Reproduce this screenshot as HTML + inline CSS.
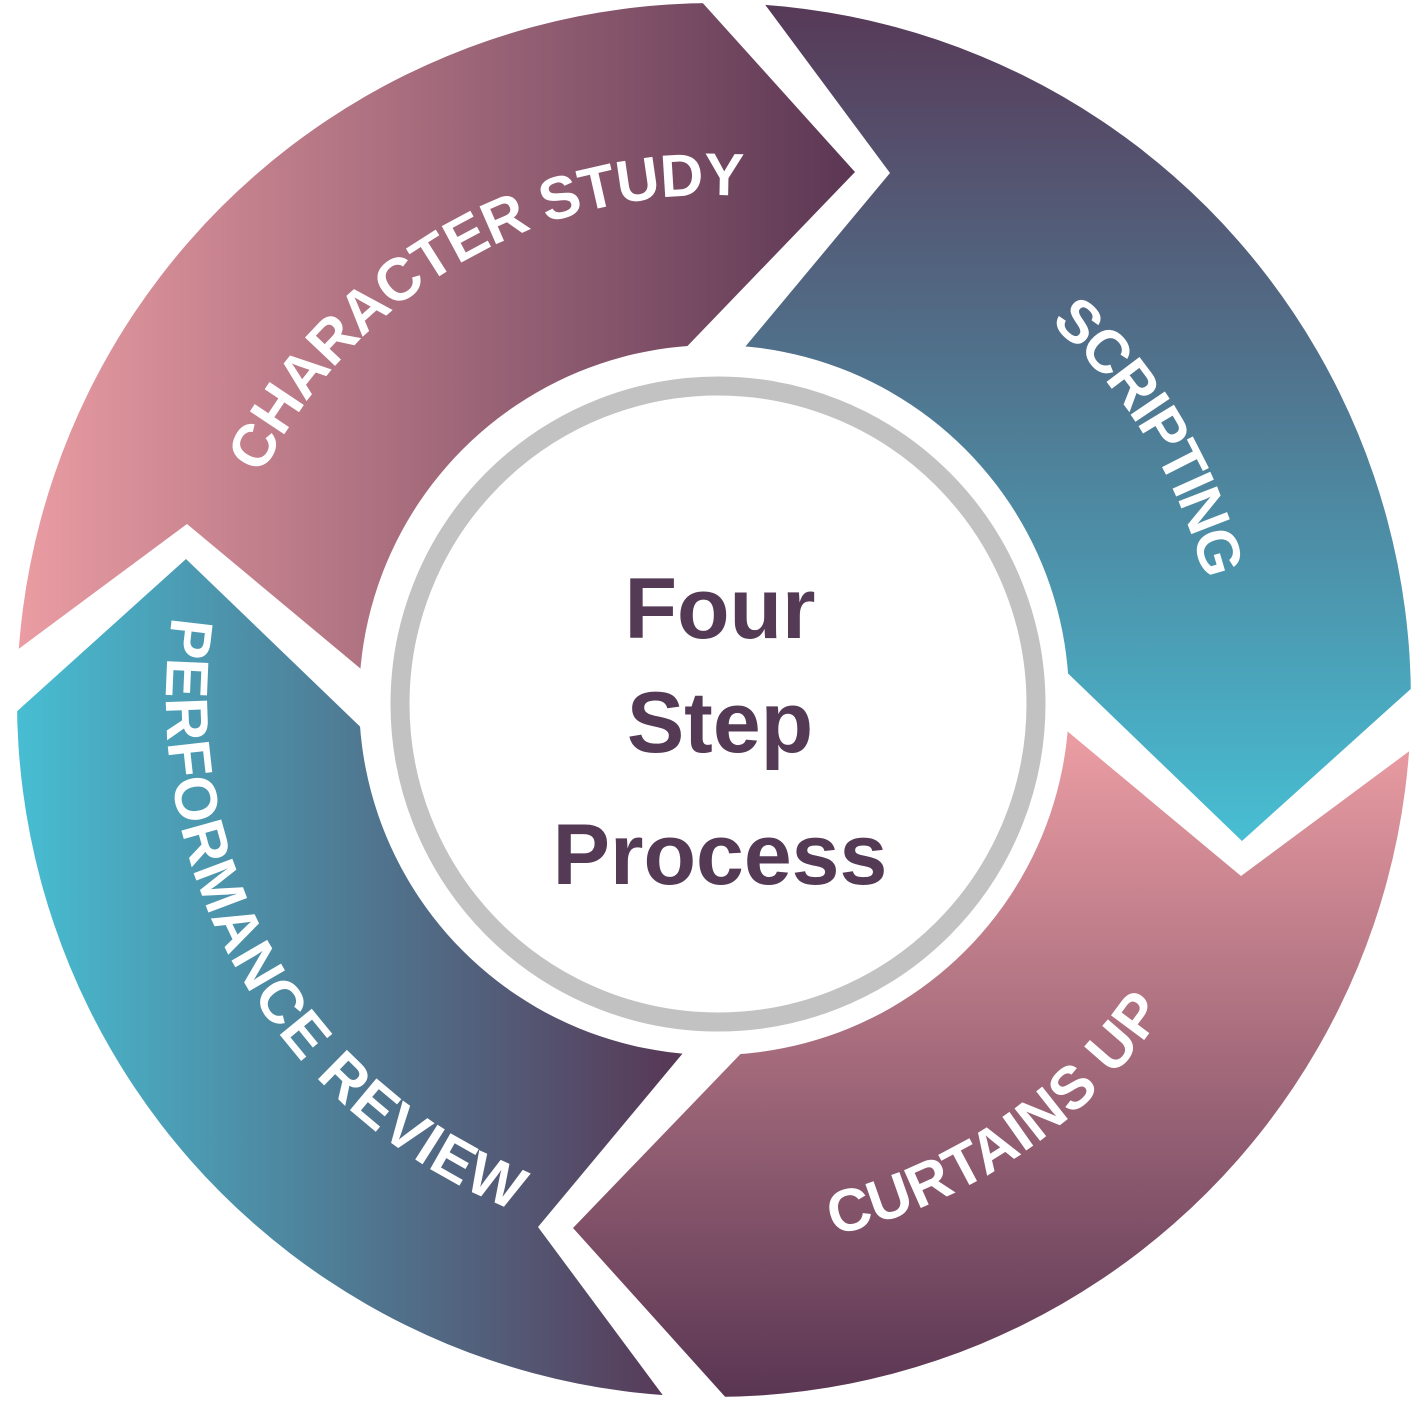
<!DOCTYPE html>
<html><head><meta charset="utf-8"><style>
html,body{margin:0;padding:0;background:#fff;width:1428px;height:1424px;overflow:hidden}
svg{display:block}
text{font-family:"Liberation Sans",sans-serif;font-weight:bold}
</style></head><body>
<svg width="1428" height="1424" viewBox="0 0 1428 1424" xmlns="http://www.w3.org/2000/svg">
<defs>
<clipPath id="ann"><path clip-rule="evenodd" d="M714,3 A697,697 0 1 1 713.9,3 Z M714,345 A355,355 0 1 0 714.1,345 Z"/></clipPath>
<clipPath id="c1"><path transform="translate(714,700) rotate(0)" d="M-992,169 L-527,-176 L-227,74 L0,0 L-169,-206 L141,-528 L-324,-1044 L-1100,-1100 Z"/></clipPath>
<clipPath id="c2"><path transform="translate(714,700) rotate(90)" d="M-992,169 L-527,-176 L-227,74 L0,0 L-169,-206 L141,-528 L-324,-1044 L-1100,-1100 Z"/></clipPath>
<clipPath id="c3"><path transform="translate(714,700) rotate(180)" d="M-992,169 L-527,-176 L-227,74 L0,0 L-169,-206 L141,-528 L-324,-1044 L-1100,-1100 Z"/></clipPath>
<clipPath id="c4"><path transform="translate(714,700) rotate(270)" d="M-992,169 L-527,-176 L-227,74 L0,0 L-169,-206 L141,-528 L-324,-1044 L-1100,-1100 Z"/></clipPath>
<linearGradient id="g1" x1="20" y1="0" x2="860" y2="0" gradientUnits="userSpaceOnUse"><stop offset="0" stop-color="#ea9ca2"/><stop offset="1" stop-color="#5a3653"/></linearGradient>
<linearGradient id="g2" x1="0" y1="10" x2="0" y2="840" gradientUnits="userSpaceOnUse"><stop offset="0" stop-color="#573a58"/><stop offset="1" stop-color="#47bed3"/></linearGradient>
<linearGradient id="g3" x1="0" y1="740" x2="0" y2="1395" gradientUnits="userSpaceOnUse"><stop offset="0" stop-color="#ea9ca2"/><stop offset="1" stop-color="#5a3653"/></linearGradient>
<linearGradient id="g4" x1="15" y1="0" x2="665" y2="0" gradientUnits="userSpaceOnUse"><stop offset="0" stop-color="#47bed3"/><stop offset="1" stop-color="#573a58"/></linearGradient>
<path id="cw" d="M209,700 A505,505 0 1 1 1219,700 A505,505 0 1 1 209,700"/>
<path id="ccw" d="M1262,700 A548,548 0 1 0 166,700 A548,548 0 1 0 1262,700"/>
</defs>
<g clip-path="url(#ann)">
<rect clip-path="url(#c1)" x="0" y="0" width="1428" height="1424" fill="url(#g1)"/>
<rect clip-path="url(#c2)" x="0" y="0" width="1428" height="1424" fill="url(#g2)"/>
<rect clip-path="url(#c3)" x="0" y="0" width="1428" height="1424" fill="url(#g3)"/>
<rect clip-path="url(#c4)" x="0" y="0" width="1428" height="1424" fill="url(#g4)"/>
</g>
<circle cx="718" cy="704" r="318" fill="#fff" stroke="#c2c2c2" stroke-width="19"/>
<g fill="#fff" font-size="60">
<text><textPath href="#cw" startOffset="528" text-anchor="middle" textLength="590" lengthAdjust="spacing">CHARACTER STUDY</textPath></text>
<text><textPath href="#cw" startOffset="1313" text-anchor="middle" textLength="305" lengthAdjust="spacing">SCRIPTING</textPath></text>
<text><textPath href="#ccw" startOffset="2908" text-anchor="middle" textLength="410" lengthAdjust="spacing">CURTAINS UP</textPath></text>
<text><textPath href="#ccw" startOffset="2008" text-anchor="middle" textLength="740" lengthAdjust="spacing">PERFORMANCE REVIEW</textPath></text>
</g>
<g fill="#553a55" font-size="86" text-anchor="middle">
<text x="720" y="638">Four</text>
<text x="720" y="752">Step</text>
<text x="720" y="884">Process</text>
</g>
</svg>
</body></html>
